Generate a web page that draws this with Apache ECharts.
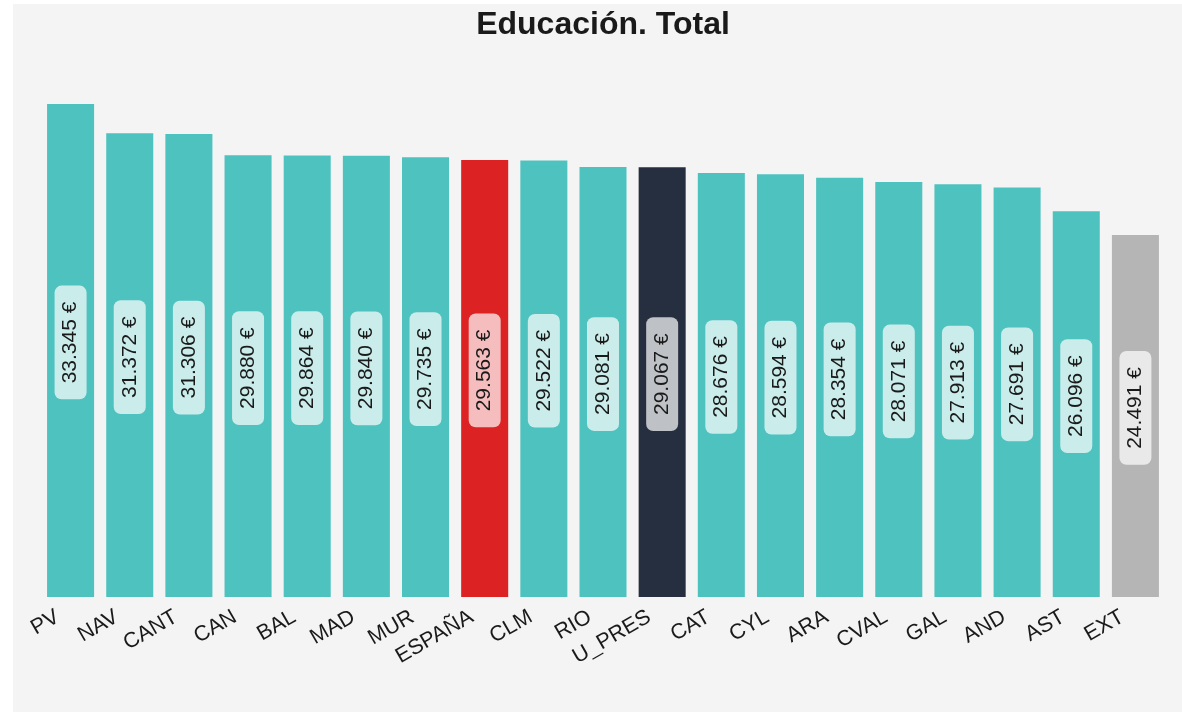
<!DOCTYPE html>
<html>
<head>
<meta charset="utf-8">
<script src="https://cdn.jsdelivr.net/npm/echarts@6/dist/echarts.min.js"></script>
<style>
html,body{margin:0;padding:0;background:#ffffff;width:1182px;height:712px;overflow:hidden;}
#chart{position:absolute;left:13px;top:4px;width:1169px;height:708px;background:#f4f4f4;}
</style>
</head>
<body>
<div id="chart"></div>
<script>
const categories = ['PV','NAV','CANT','CAN','BAL','MAD','MUR','ESPAÑA','CLM','RIO','U_PRES','CAT','CYL','ARA','CVAL','GAL','AND','AST','EXT'];
const values = [33345,31372,31306,29880,29864,29840,29735,29563,29522,29081,29067,28676,28594,28354,28071,27913,27691,26096,24491];
const titleText = 'Educación. Total';

function barColor(name){
  if(name==='ESPAÑA') return '#dc2222';
  if(name==='U_PRES') return '#262f3f';
  if(name==='EXT') return '#b5b5b5';
  return '#4ec2bf';
}
function fmt(v){
  return String(Math.round(v)).replace(/\B(?=(\d{3})+(?!\d))/g,'.') + ' €';
}

const chart = echarts.init(document.getElementById('chart'));
chart.setOption({
  animation:false,
  backgroundColor:'#f4f4f4',
  title:{
    text:titleText,
    left:585, top:0, textAlign:'center',
    textStyle:{fontFamily:'Liberation Sans, Arial, sans-serif',fontSize:32,fontWeight:'bold',color:'#1a1a1a'}
  },
  grid:{left:28,right:17,top:75.5,bottom:115,containLabel:false},
  xAxis:{
    type:'category',
    data:categories,
    axisLine:{show:false},
    axisTick:{show:false},
    axisLabel:{
      rotate:30,
      interval:0,
      margin:11,
      padding:[0,15,0,0],
      fontFamily:'Liberation Sans, Arial, sans-serif',
      fontSize:21.5,
      color:'#1a1a1a'
    }
  },
  yAxis:{
    type:'value',min:0,max:35000,
    show:false,
    splitLine:{show:false}
  },
  series:[{
    type:'bar',
    data:values,
    barCategoryGap:'20.5%',
    itemStyle:{color:function(p){return barColor(categories[p.dataIndex]);}},
    label:{
      show:true,
      position:'inside',
      rotate:90,
      offset:[8,0],
      formatter:function(p){return fmt(p.value);},
      fontFamily:'Liberation Sans, Arial, sans-serif',
      fontSize:21,
      color:'#1a1a1a',
      backgroundColor:'rgba(255,255,255,0.7)',
      borderRadius:7,
      padding:[6,16,5,16]
    }
  }]
});
</script>
</body>
</html>
